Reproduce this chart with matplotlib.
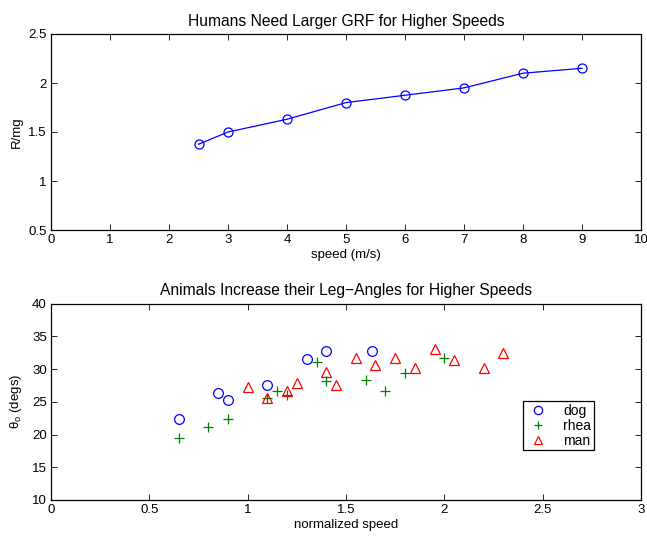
import matplotlib
matplotlib.use("Agg")
import matplotlib.pyplot as plt

plt.rcParams['font.family'] = ['Liberation Sans', 'DejaVu Sans']
plt.rcParams['mathtext.fontset'] = 'custom'
plt.rcParams['mathtext.rm'] = 'Liberation Sans'
plt.rcParams['mathtext.it'] = 'Liberation Sans'

# Top chart data
speed = [2.5, 3, 4, 5, 6, 7, 8, 9]
r_mg = [1.375, 1.5, 1.63, 1.80, 1.875, 1.95, 2.10, 2.15]

# Bottom chart data
dog_x = [0.65, 0.85, 0.90, 1.10, 1.30, 1.40, 1.63]
dog_y = [22.4, 26.4, 25.2, 27.6, 31.5, 32.7, 32.7]
rhea_x = [0.65, 0.80, 0.90, 1.10, 1.15, 1.20, 1.35, 1.40, 1.60, 1.70, 1.80, 2.00]
rhea_y = [19.5, 21.2, 22.4, 25.5, 26.6, 26.0, 31.1, 28.2, 28.3, 26.6, 29.4, 31.7]
man_x = [1.00, 1.10, 1.20, 1.25, 1.40, 1.45, 1.55, 1.65, 1.75, 1.85, 1.95, 2.05, 2.20, 2.30]
man_y = [27.2, 25.5, 26.6, 27.9, 29.5, 27.5, 31.7, 30.6, 31.7, 30.1, 33.0, 31.3, 30.1, 32.4]

W, H = 647, 536
fig = plt.figure(figsize=(W / 100, H / 100), dpi=100)

def style(ax):
    ax.tick_params(direction='in', top=True, right=True, length=4, width=0.6,
                   labelsize=9.5, pad=3)
    for s in ax.spines.values():
        s.set_linewidth(0.9)

ax1 = fig.add_axes([51 / W, 1 - 230 / H, 590 / W, 196 / H])
ax1.plot(speed, r_mg, '-o', color='blue', mfc='none', mec='blue', ms=6.5,
         lw=0.9, mew=0.9)
ax1.set_xlim(0, 10)
ax1.set_ylim(0.5, 2.5)
ax1.set_xticks(range(0, 11))
ax1.set_yticks([0.5, 1, 1.5, 2, 2.5])
ax1.set_yticklabels(['0.5', '1', '1.5', '2', '2.5'])
ax1.set_xlabel('speed (m/s)', fontsize=9.5, labelpad=2)
ax1.set_ylabel('R/mg', fontsize=9.5, labelpad=4)
ax1.set_title('Humans Need Larger GRF for Higher Speeds', fontsize=11.25, pad=6)
style(ax1)

ax2 = fig.add_axes([51 / W, 1 - 500 / H, 590 / W, 196.5 / H])
ax2.plot(dog_x, dog_y, 'o', color='blue', mfc='none', mec='blue', ms=7, mew=0.9,
         label='dog', linestyle='none')
ax2.plot(rhea_x, rhea_y, '+', color='green', ms=6.5, mew=0.9, label='rhea',
         linestyle='none')
ax2.plot(man_x, man_y, '^', color='red', mfc='none', mec='red', ms=7.5, mew=0.9,
         label='man', linestyle='none')
ax2.set_xlim(0, 3)
ax2.set_ylim(10, 40)
ax2.set_xticks([0, 0.5, 1, 1.5, 2, 2.5, 3])
ax2.set_xticklabels(['0', '0.5', '1', '1.5', '2', '2.5', '3'])
ax2.set_yticks([10, 15, 20, 25, 30, 35, 40])
ax2.set_xlabel('normalized speed', fontsize=9.5, labelpad=2)
ax2.set_ylabel(r'$\theta_o$ (degs)', fontsize=9.5, labelpad=6)
ax2.set_title('Animals Increase their Leg\u2212Angles for Higher Speeds', fontsize=11.25, pad=6)
style(ax2)
leg = ax2.legend(loc='lower left', bbox_to_anchor=(0.800, 0.253), borderaxespad=0,
                 fontsize=10, numpoints=1, fancybox=False, framealpha=1,
                 edgecolor='black', handlelength=1.8, handletextpad=0.9,
                 labelspacing=0.05, borderpad=0.2, markerscale=0.85)
leg.get_frame().set_linewidth(0.9)

fig.savefig('out.png', dpi=100)
